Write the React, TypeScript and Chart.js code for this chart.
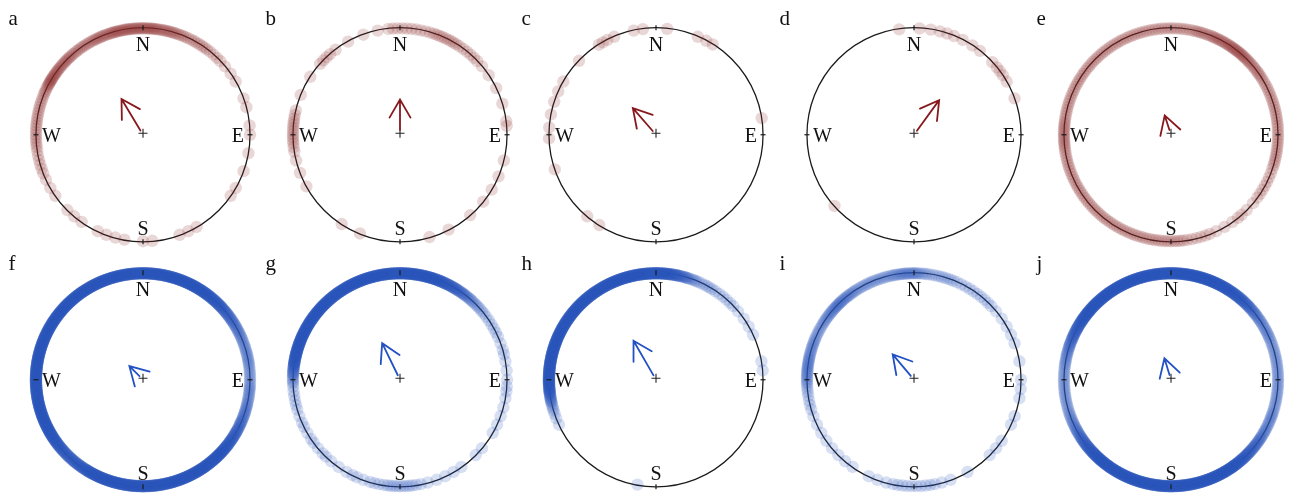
import React, { useEffect, useRef } from "react";
import { Chart, registerables } from "chart.js";

Chart.register(...registerables);

// ---------- data ----------
const PANEL_LETTERS = ["a", "b", "c", "d", "e", "f", "g", "h", "i", "j"];
const DIRECTION_LABELS = ["N", "E", "S", "W"];

// 5-degree bins (bearing, clockwise from north); counts = observations in each bin
const BIN_ANGLES = [
  0, 5, 10, 15, 20, 25, 30, 35, 40, 45, 50, 55,
  60, 65, 70, 75, 80, 85, 90, 95, 100, 105, 110, 115,
  120, 125, 130, 135, 140, 145, 150, 155, 160, 165, 170, 175,
  180, 185, 190, 195, 200, 205, 210, 215, 220, 225, 230, 235,
  240, 245, 250, 255, 260, 265, 270, 275, 280, 285, 290, 295,
  300, 305, 310, 315, 320, 325, 330, 335, 340, 345, 350, 355,
];

const aCounts = [
  6, 6, 5, 5, 4, 3, 3, 3, 2, 2, 1, 1,
  1, 0, 1, 1, 0, 1, 1, 0, 1, 0, 1, 0,
  1, 1, 0, 0, 0, 0, 1, 1, 1, 0, 0, 1,
  1, 0, 1, 1, 1, 1, 0, 1, 1, 1, 0, 1,
  1, 1, 2, 2, 2, 3, 3, 3, 3, 3, 3, 4,
  7, 6, 5, 5, 4, 4, 4, 5, 5, 6, 6, 6,
];

const bAngles = [355, 0, 5, 10, 15, 20, 25, 30, 35, 40, 45, 50, 56, 64, 73, 84, 104, 113, 121, 129, 139, 153, 164, 202, 213, 241, 249, 256, 262, 267, 272, 277, 282, 292, 303, 313, 318, 323, 331, 340, 348];
const bCounts = [2, 2, 2, 2, 2, 3, 3, 3, 2, 2, 2, 1, 1, 1, 1, 2, 1, 1, 1, 1, 1, 1, 1, 1, 1, 1, 1, 1, 2, 3, 3, 3, 2, 1, 1, 2, 2, 1, 1, 1, 1];

const cAngles = [329, 333, 337, 348, 353, 6, 23, 28, 32, 314, 300, 294, 288, 281, 274, 268, 251, 220, 212, 81];
const cCounts = [2, 1, 1, 1, 1, 1, 1, 1, 1, 1, 1, 1, 1, 1, 1, 1, 1, 1, 1, 1];

const dAngles = [352, 3, 9, 14, 18, 22, 27, 33, 38, 47, 52, 56, 60, 70, 228];
const dCounts = [1, 1, 1, 1, 1, 1, 1, 1, 1, 1, 2, 1, 1, 1, 1];

const eCounts = [
  3, 3, 3, 4, 4, 5, 5, 6, 6, 5, 4, 4,
  3, 3, 3, 3, 3, 3, 3, 3, 3, 3, 2, 2,
  2, 2, 1, 1, 2, 1, 1, 1, 2, 2, 2, 3,
  3, 3, 3, 3, 3, 3, 3, 3, 3, 3, 3, 3,
  3, 3, 3, 3, 3, 4, 4, 4, 3, 3, 3, 3,
  3, 3, 3, 3, 3, 3, 3, 3, 3, 3, 3, 3,
];

const fCounts = [
  20, 20, 20, 20, 20, 20, 20, 18, 16, 14, 11, 9,
  7, 6, 5, 5, 5, 4, 4, 5, 5, 6, 7, 9,
  11, 14, 17, 20, 20, 20, 20, 20, 20, 20, 20, 20,
  20, 20, 20, 20, 20, 20, 18, 14, 12, 12, 14, 17,
  20, 20, 20, 20, 20, 20, 20, 20, 20, 20, 20, 20,
  20, 20, 20, 20, 20, 20, 20, 20, 20, 20, 20, 20,
];

const gCounts = [
  20, 20, 20, 20, 18, 15, 12, 9, 6, 4, 3, 2,
  2, 2, 1, 2, 1, 1, 1, 2, 1, 1, 1, 1,
  1, 0, 1, 1, 0, 1, 1, 1, 1, 1, 2, 3,
  3, 3, 2, 2, 1, 2, 1, 1, 1, 2, 1, 2,
  1, 2, 1, 2, 2, 2, 5, 10, 18, 20, 20, 20,
  20, 20, 20, 20, 20, 20, 20, 20, 20, 20, 20, 20,
];

const hCounts = [
  20, 18, 14, 9, 5, 3, 3, 2, 2, 2, 1, 1,
  1, 1, 0, 0, 1, 1, 0, 0, 0, 0, 0, 0,
  0, 0, 0, 0, 0, 0, 0, 0, 0, 0, 0, 0,
  0, 0, 1, 0, 0, 0, 0, 0, 0, 0, 0, 0,
  0, 1, 2, 4, 9, 16, 20, 20, 20, 20, 20, 20,
  20, 20, 20, 20, 20, 20, 20, 20, 20, 20, 20, 20,
];

const iCounts = [
  6, 4, 3, 3, 3, 2, 2, 2, 2, 2, 1, 1,
  1, 1, 1, 0, 1, 0, 1, 1, 1, 0, 1, 1,
  0, 1, 1, 1, 0, 0, 1, 0, 1, 1, 2, 2,
  2, 2, 2, 1, 1, 1, 0, 1, 1, 1, 1, 1,
  1, 1, 1, 2, 2, 3, 5, 6, 6, 5, 5, 4,
  4, 5, 6, 7, 6, 5, 4, 4, 4, 4, 5, 6,
];

const jCounts = [
  20, 20, 20, 20, 20, 20, 18, 16, 14, 11, 8, 6,
  5, 5, 4, 4, 4, 4, 4, 4, 4, 4, 5, 5,
  6, 8, 10, 13, 16, 20, 20, 20, 20, 20, 20, 20,
  20, 20, 20, 20, 20, 20, 20, 20, 20, 18, 14, 11,
  8, 6, 5, 4, 4, 4, 4, 4, 5, 6, 8, 11,
  14, 18, 20, 20, 20, 20, 20, 20, 20, 20, 20, 20,
];

// mean vector: bearing (deg) and length (fraction of circle radius)
const MEAN_BEARINGS = [329, 0, 319, 36, 342, 315, 334, 330, 320, 343];
const MEAN_LENGTHS = [0.39, 0.33, 0.33, 0.4, 0.19, 0.18, 0.38, 0.42, 0.31, 0.21];

const PANEL_ANGLES = [BIN_ANGLES, bAngles, cAngles, dAngles, BIN_ANGLES, BIN_ANGLES, BIN_ANGLES, BIN_ANGLES, BIN_ANGLES, BIN_ANGLES];
const PANEL_COUNTS = [aCounts, bCounts, cCounts, dCounts, eCounts, fCounts, gCounts, hCounts, iCounts, jCounts];

// ---------- style / layout ----------
const RED_DOT = "140,45,40";
const BLUE_DOT = "40,85,185";
const RED_ARROW = "rgb(135,25,30)";
const BLUE_ARROW = "rgb(35,80,195)";
const DOT_ALPHA = 0.19;
const BIN_SPREAD = 5; // degrees over which repeated observations of one bin are laid out

const COL_CX = [143, 400, 656, 914, 1171];
const ROW_CY = [135, 380];
const RADIUS = 112;
const CANVAS_W = 280;
const CANVAS_H = 250;
const OFF_X = 140;
const OFF_Y = 130;

function Panel({ index }: { index: number }) {
  const ref = useRef<HTMLCanvasElement>(null);
  useEffect(() => {
    const canvas = ref.current;
    if (!canvas) return;
    const isRed = index < 5;
    const rgb = isRed ? RED_DOT : BLUE_DOT;
    const arrowColor = isRed ? RED_ARROW : BLUE_ARROW;
    const angles = PANEL_ANGLES[index];
    const counts = PANEL_COUNTS[index];
    const pts: { x: number; y: number }[] = [];
    angles.forEach((deg, k) => {
      const c = counts[k];
      for (let m = 0; m < c; m++) {
        const off = c === 1 ? 0 : -BIN_SPREAD / 2 + ((m + 0.5) * BIN_SPREAD) / c;
        const t = ((deg + off) * Math.PI) / 180;
        pts.push({ x: Math.sin(t), y: Math.cos(t) });
      }
    });

    const geom = (chart: any) => {
      const xs = chart.scales.x;
      const ys = chart.scales.y;
      const cx = xs.getPixelForValue(0);
      const cy = ys.getPixelForValue(0);
      const r = xs.getPixelForValue(1) - cx;
      return { cx, cy, r };
    };

    const drawTicks = (ctx: CanvasRenderingContext2D, cx: number, cy: number, r: number) => {
      ctx.strokeStyle = "#1a1a1a";
      ctx.lineWidth = 1.2;
      for (let q = 0; q < 4; q++) {
        const t = (q * Math.PI) / 2;
        const sx = Math.sin(t);
        const sy = -Math.cos(t);
        ctx.beginPath();
        ctx.moveTo(cx + sx * (r - 2.5), cy + sy * (r - 2.5));
        ctx.lineTo(cx + sx * (r + 2.5), cy + sy * (r + 2.5));
        ctx.stroke();
      }
    };

    const plugin = {
      id: "compass",
      beforeDatasetsDraw(chart: any) {
        const { ctx } = chart;
        const { cx, cy, r } = geom(chart);
        ctx.save();
        ctx.strokeStyle = "#1a1a1a";
        ctx.lineWidth = 1.3;
        ctx.beginPath();
        ctx.arc(cx, cy, r, 0, Math.PI * 2);
        ctx.stroke();
        ctx.restore();
      },
      afterDatasetsDraw(chart: any) {
        const { ctx } = chart;
        const { cx, cy, r } = geom(chart);
        ctx.save();
        drawTicks(ctx, cx, cy, r);

        ctx.fillStyle = "#111";
        ctx.font = '20px "Liberation Serif", "Times New Roman", serif';
        ctx.textBaseline = "alphabetic";
        ctx.textAlign = "center";
        ctx.fillText(DIRECTION_LABELS[0], cx, cy - r + 23);
        ctx.fillText(DIRECTION_LABELS[2], cx, cy + r - 7);
        ctx.textAlign = "right";
        ctx.fillText(DIRECTION_LABELS[1], cx + r - 6, cy + 7.5);
        ctx.textAlign = "left";
        ctx.fillText(DIRECTION_LABELS[3], cx - r + 6, cy + 7.5);

        // panel letter
        ctx.font = '21px "Liberation Serif", "Times New Roman", serif';
        ctx.fillText(PANEL_LETTERS[index], cx - 134.5, cy - 110);

        // center plus
        ctx.strokeStyle = "#222";
        ctx.lineWidth = 1.1;
        ctx.beginPath();
        ctx.moveTo(cx - 4.5, cy - 1.5);
        ctx.lineTo(cx + 4.5, cy - 1.5);
        ctx.moveTo(cx, cy - 6);
        ctx.lineTo(cx, cy + 3);
        ctx.stroke();

        // mean vector arrow
        const b = (MEAN_BEARINGS[index] * Math.PI) / 180;
        const L = MEAN_LENGTHS[index] * r;
        const ux = Math.sin(b);
        const uy = -Math.cos(b);
        const tx = cx + ux * L;
        const ty = cy + uy * L;
        const s0 = 5;
        ctx.strokeStyle = arrowColor;
        ctx.lineWidth = 1.8;
        ctx.lineCap = "round";
        ctx.beginPath();
        ctx.moveTo(cx + ux * s0, cy + uy * s0);
        ctx.lineTo(tx, ty);
        const back = Math.atan2(-uy, -ux);
        const hl = 21;
        const ha = (30 * Math.PI) / 180;
        ctx.moveTo(tx + Math.cos(back + ha) * hl, ty + Math.sin(back + ha) * hl);
        ctx.lineTo(tx, ty);
        ctx.lineTo(tx + Math.cos(back - ha) * hl, ty + Math.sin(back - ha) * hl);
        ctx.stroke();
        ctx.restore();
      },
    };

    const chart = new Chart(canvas, {
      type: "scatter",
      data: {
        datasets: [
          {
            data: pts,
            pointRadius: 6.2,
            pointHoverRadius: 6.2,
            pointBackgroundColor: `rgba(${rgb},${DOT_ALPHA})`,
            pointBorderWidth: 0,
            pointBorderColor: "rgba(0,0,0,0)",
            showLine: false,
            clip: false,
          } as any,
        ],
      },
      options: {
        responsive: false,
        maintainAspectRatio: false,
        animation: false,
        events: [],
        layout: { padding: 0 },
        scales: {
          x: { type: "linear", min: -OFF_X / RADIUS, max: (CANVAS_W - OFF_X) / RADIUS, display: false },
          y: { type: "linear", min: -(CANVAS_H - OFF_Y) / RADIUS, max: OFF_Y / RADIUS, display: false },
        },
        plugins: { legend: { display: false }, tooltip: { enabled: false } },
      },
      plugins: [plugin],
    });
    return () => chart.destroy();
  }, [index]);

  const col = index % 5;
  const row = Math.floor(index / 5);
  return (
    <canvas
      ref={ref}
      width={CANVAS_W}
      height={CANVAS_H}
      style={{
        position: "absolute",
        left: COL_CX[col] - OFF_X,
        top: ROW_CY[row] - OFF_Y,
        width: CANVAS_W,
        height: CANVAS_H,
      }}
    />
  );
}

export default function App() {
  return (
    <div
      style={{
        position: "absolute",
        left: 0,
        top: 0,
        width: 1292,
        height: 497,
        overflow: "hidden",
        background: "#fff",
      }}
    >
      {PANEL_LETTERS.map((_, i) => (
        <Panel key={i} index={i} />
      ))}
    </div>
  );
}
